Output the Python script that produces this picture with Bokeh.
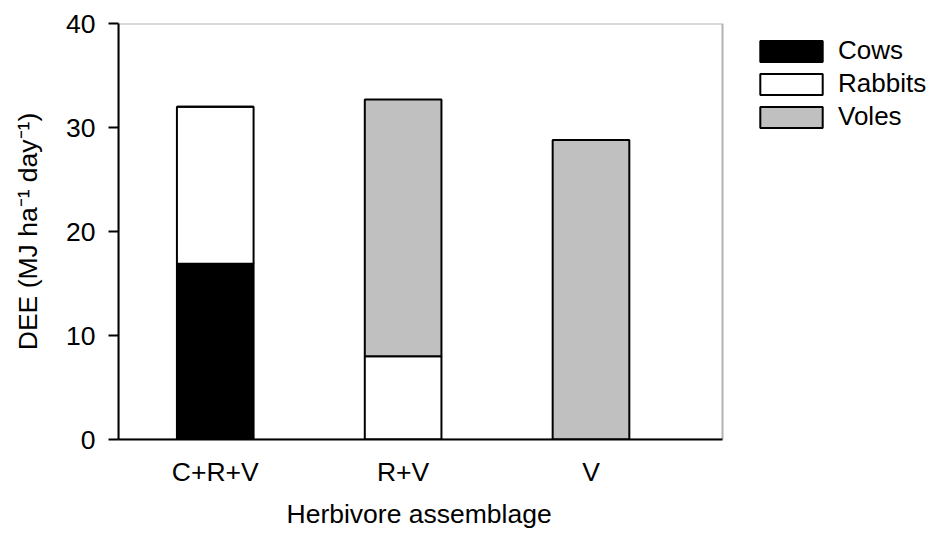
from bokeh.plotting import figure
from bokeh.models import Range1d, FixedTicker, Legend, LegendItem, ColumnDataSource, BoxAnnotation, Title
from bokeh.embed import file_html
from bokeh.resources import INLINE

# ---- data ----
categories = ["C+R+V", "R+V", "V"]
positions = [1, 2, 3]
cows = [16.9, 0.0, 0.0]
rabbits = [15.1, 8.0, 0.0]
voles = [0.0, 24.7, 28.8]
series = ["Cows", "Rabbits", "Voles"]
colors = ["#000000", "#ffffff", "#c0c0c0"]
y_ticks = [0, 10, 20, 30, 40]
x_title = "Herbivore assemblage"
y_title = "DEE (MJ ha\u207b\u00b9 day\u207b\u00b9)"

FONT = "Liberation Sans"
FS = "26.5px"
LFS = "26px"

W, H = 927, 536
LEFT, TOP, BOTTOM = 118, 23, 97
# axes box spans x 0.485..3.70; the frame is extended to the right to hold the legend
X0, X1 = 0.485, 3.70
Y0, Y1 = 0, 40
BOX_W = 604
FRAME_W = W - LEFT
x_end = X0 + FRAME_W * (X1 - X0) / BOX_W

p = figure(width=W, height=H, output_backend="svg", toolbar_location=None,
           x_range=Range1d(X0, x_end), y_range=Range1d(Y0, Y1),
           min_border_left=LEFT, min_border_right=0,
           min_border_top=TOP, min_border_bottom=BOTTOM)

src = ColumnDataSource(dict(x=positions, Cows=cows, Rabbits=rabbits, Voles=voles))
rs = p.vbar_stack(series, x="x", width=0.408, source=src, fill_color=colors,
                  line_color="black", line_width=2)

p.grid.visible = False
p.outline_line_color = None
p.background_fill_color = "white"
p.border_fill_color = "white"

box = BoxAnnotation(left=X0, right=X1, bottom=Y0, top=Y1, fill_alpha=0,
                    line_color="black", line_width=2, level="overlay")
p.add_layout(box)

# y axis
ya = p.yaxis[0]
ya.ticker = FixedTicker(ticks=y_ticks)
ya.minor_tick_line_color = None
ya.major_tick_out = 10
ya.major_tick_in = 0
ya.major_tick_line_width = 2
ya.axis_line_width = 2
ya.major_label_standoff = 13
ya.major_label_text_font = FONT
ya.major_label_text_font_size = FS
ya.major_label_text_color = "black"
ya.axis_label = y_title
ya.axis_label_text_font = FONT
ya.axis_label_text_font_size = FS
ya.axis_label_text_font_style = "normal"
ya.axis_label_text_color = "black"
ya.axis_label_standoff = 20

# x axis
xa = p.xaxis[0]
xa.bounds = (X0, X1)
xa.ticker = FixedTicker(ticks=positions)
xa.major_label_overrides = {pos: c for pos, c in zip(positions, categories)}
xa.minor_tick_line_color = None
xa.major_tick_line_color = None
xa.major_tick_out = 0
xa.major_tick_in = 0
xa.axis_line_width = 2
xa.major_label_standoff = 17
xa.major_label_text_font = FONT
xa.major_label_text_font_size = FS
xa.major_label_text_color = "black"

# x-axis title, centred under the axes box (not the extended frame)
xt = Title(text=x_title, align="left", offset=168, standoff=15,
           text_font=FONT, text_font_size=FS, text_font_style="normal",
           text_color="black")
p.add_layout(xt, "below")

legend = Legend(items=[LegendItem(label=s, renderers=[r]) for s, r in zip(series, rs)],
                location=(634, 307), orientation="vertical",
                glyph_width=78, glyph_height=26, label_height=26, label_standoff=8,
                spacing=2, padding=0, margin=0,
                border_line_alpha=0, background_fill_alpha=0,
                label_text_font=FONT, label_text_font_size=LFS, label_text_color="black")
p.add_layout(legend, "center")

open("out.html", "w").write(file_html(p, INLINE))
